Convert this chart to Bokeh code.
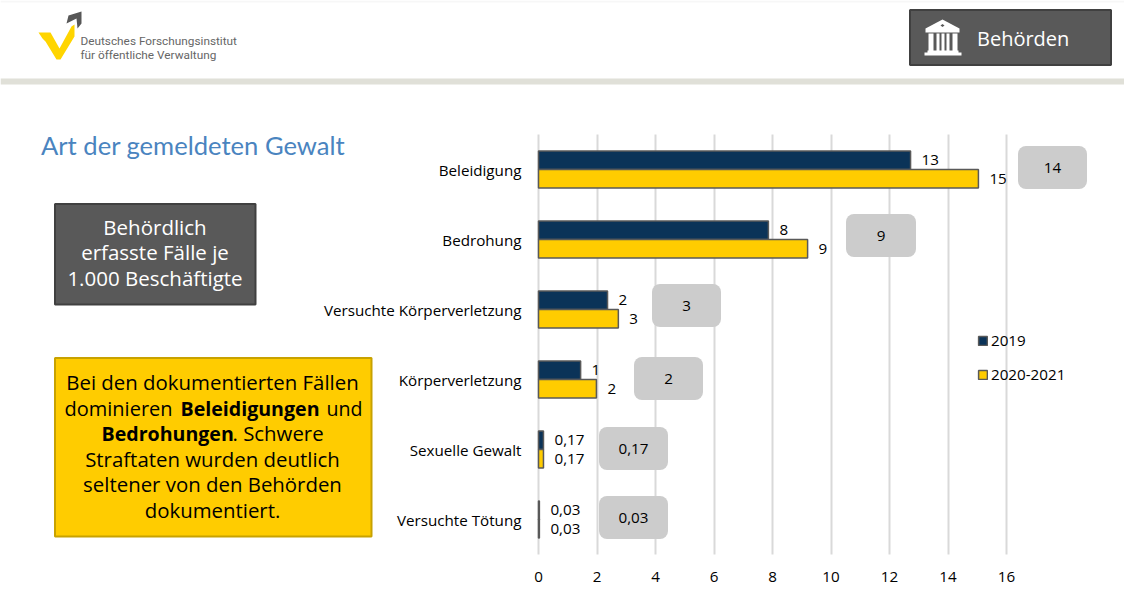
from bokeh.plotting import figure
from bokeh.core.properties import value
from bokeh.models import (Range1d, FixedTicker, ColumnDataSource, LabelSet, Label, LinearAxis, Grid,
                          BoxAnnotation, PolyAnnotation, Legend, LegendItem, Dodge)
from bokeh.embed import file_html
from bokeh.resources import INLINE

categories = ["Beleidigung", "Bedrohung", "Versuchte Körperverletzung",
              "Körperverletzung", "Sexuelle Gewalt", "Versuchte Tötung"]
series_2019 = [12.72, 7.86, 2.36, 1.44, 0.17, 0.03]
series_2021 = [15.04, 9.2, 2.73, 1.98, 0.17, 0.03]
labels_2019 = ["13", "8", "2", "1", "0,17", "0,03"]
labels_2021 = ["15", "9", "3", "2", "0,17", "0,03"]
callouts = ["14", "9", "3", "2", "0,17", "0,03"]
x_ticks = [0, 2, 4, 6, 8, 10, 12, 14, 16]
series_names = ["2019", "2020-2021"]
NAVY, YELLOW, EDGE = "#0b3358", "#ffcc00", "#595959"
FONT = "Open Sans"
SIZE = "15.2px"

W, H = 1124, 593
X0, PX_PER_UNIT = 538, 29.25
Y0, PX_PER_ROW = 169, 70
rows = list(range(len(categories)))

p = figure(width=W, height=H, output_backend="svg", toolbar_location=None,
           x_range=Range1d(-X0 / PX_PER_UNIT, (W - X0) / PX_PER_UNIT),
           y_range=Range1d((H - Y0) / PX_PER_ROW, -Y0 / PX_PER_ROW),
           x_axis_location=None, y_axis_location=None,
           min_border_left=0, min_border_right=0, min_border_top=0, min_border_bottom=0,
           outline_line_color=None)
p.grid.visible = False

xaxis = LinearAxis(ticker=FixedTicker(ticks=x_ticks), fixed_location=rows[-1] + 0.5,
                   axis_line_color=None, major_tick_line_color=None, minor_tick_line_color=None,
                   major_label_standoff=11, major_label_text_font=FONT,
                   major_label_text_font_size=SIZE, major_label_text_color="#000000")
yaxis = LinearAxis(ticker=FixedTicker(ticks=rows), fixed_location=0,
                   major_label_overrides=dict(zip(rows, categories)),
                   axis_line_color=None, major_tick_line_color=None, minor_tick_line_color=None,
                   major_label_standoff=11, major_label_text_font=FONT,
                   major_label_text_font_size=SIZE, major_label_text_color="#000000")
p.add_layout(xaxis, "below")
p.add_layout(yaxis, "left")
p.add_layout(Grid(dimension=0, ticker=FixedTicker(ticks=x_ticks), cross_bounds=(-0.5, rows[-1] + 0.5),
                  grid_line_color="#d9d9d9", grid_line_width=2))

source = ColumnDataSource(dict(row=rows, a=series_2019, b=series_2021,
                               la=labels_2019, lb=labels_2021))
HEIGHT = 0.265
da = Dodge(value=-HEIGHT / 2)
db = Dodge(value=HEIGHT / 2)
r1 = p.hbar(y={"field": "row", "transform": da}, right="a", left=0, height=HEIGHT, source=source,
            fill_color=NAVY, line_color=EDGE, line_width=1.5)
r2 = p.hbar(y={"field": "row", "transform": db}, right="b", left=0, height=HEIGHT, source=source,
            fill_color=YELLOW, line_color=EDGE, line_width=1.5)

for xf, yd, tf in (("a", da, "la"), ("b", db, "lb")):
    p.add_layout(LabelSet(x=xf, y={"field": "row", "transform": yd}, text=tf, source=source,
                          x_offset=11, text_align="left", text_baseline="middle",
                          text_font=value(FONT), text_font_size=value(SIZE), text_color="#000000"))

legend = Legend(items=[LegendItem(label=series_names[0], renderers=[r1]),
                       LegendItem(label=series_names[1], renderers=[r2])],
                location=(977, H - 384), orientation="vertical", padding=0, margin=0,
                spacing=14, glyph_width=11, glyph_height=11, label_standoff=3,
                label_text_font=FONT, label_text_font_size=SIZE, label_text_color="#000000",
                label_height=11, background_fill_alpha=0, border_line_color=None)
p.add_layout(legend)


def box(x0, x1, y0, y1, fill, line=None, lw=0, radius=0):
    p.add_layout(BoxAnnotation(left=x0, right=x1, top=y0, bottom=y1, level="overlay",
                               left_units="canvas", right_units="canvas", top_units="canvas",
                               bottom_units="canvas", fill_color=fill, fill_alpha=1,
                               line_color=line, line_alpha=1, line_width=lw, border_radius=radius,
                               editable=False))


def poly(points, fill):
    p.add_layout(PolyAnnotation(xs=[a for a, _ in points], ys=[b for _, b in points], level="overlay",
                                xs_units="canvas", ys_units="canvas", fill_color=fill, fill_alpha=1,
                                line_color=None))


def text(x, y, s, size, color="#000000", align="center", style="normal", font=FONT):
    p.add_layout(Label(x=x, y=y, x_units="canvas", y_units="canvas", text=s, level="overlay",
                       text_font=font, text_font_size=f"{size}px", text_color=color,
                       text_align=align, text_baseline="middle", text_font_style=style))


# callouts
call_boxes = [(1018, 1087, 146, 189), (846, 916, 214, 257), (652, 721, 284, 327),
              (634, 703, 357, 400), (599, 668, 427, 470), (599, 668, 496, 539)]
for s, (x0, x1, y0, y1) in zip(callouts, call_boxes):
    box(x0 - 0.5, x1 - 0.5, y0 - 0.5, y1 - 0.5, "#cccccc", None, 0, 8)
    text((x0 + x1) / 2 - 0.5, (y0 + y1) / 2 - 0.5, s, 15.2)

# header
box(0, W, 0, 2, "#f7f7f7")
box(0, W, 78, 84, "#e0e0d8")
box(909.5, 1110.5, 9.5, 64.5, "#595959", "#404040", 2)
text(976.5, 38, "Behörden", 20, "#ffffff", "left")
poly([(942, 19), (959, 28), (959, 32), (925, 32), (925, 28)], "#ffffff")
poly([(942, 23.5), (944, 25), (942, 26.5), (940, 25)], "#595959")
for a, b in [(928, 933), (936, 939), (941, 944), (946, 949), (952, 957)]:
    box(a, b, 33, 51, "#ffffff")
box(927, 958, 50, 53, "#ffffff")
box(924, 961, 52, 55, "#ffffff")

poly([(38, 32), (50, 32), (59, 48), (71, 26), (74, 24), (74, 36), (60, 59), (56, 59), (45, 41), (42, 38)],
     "#ffd500")
poly([(66, 23), (68, 15), (81, 11), (81, 23), (77, 28), (76, 18)], "#575757")
text(80, 40, "Deutsches Forschungsinstitut", 11.8, "#666666", "left", font="Roboto")
text(80, 54, "für öffentliche Verwaltung", 11.8, "#666666", "left", font="Roboto")

text(40.5, 144, "Art der gemeldeten Gewalt", 25.6, "#4a84bf", "left", font="Lato")

# grey note
box(54.5, 255, 203.5, 304, "#595959", "#404040", 2)
for y, s in zip((226.5, 251.5, 277.5), ("Behördlich", "erfasste Fälle je", "1.000 Beschäftigte")):
    text(154.5, y, s, 20.5, "#ffffff")

# yellow note
box(54.5, 371, 357.5, 536, "#ffcc00", "#c8a200", 2)
text(212, 381.5, "Bei den dokumentierten Fällen", 20.4)
text(64, 407.5, "dominieren", 20, align="left")
text(180, 407.5, "Beleidigungen", 19.6, align="left", style="bold")
text(326, 407.5, "und", 19.6, align="left")
text(101, 432.5, "Bedrohungen", 19.6, align="left", style="bold")
text(232, 432.5, ". Schwere", 20.4, align="left")
text(212, 458.5, "Straftaten wurden deutlich", 20.4)
text(212, 483.5, "seltener von den Behörden", 20.4)
text(212, 509.5, "dokumentiert.", 20.4)

open("out.html", "w").write(file_html(p, INLINE))
